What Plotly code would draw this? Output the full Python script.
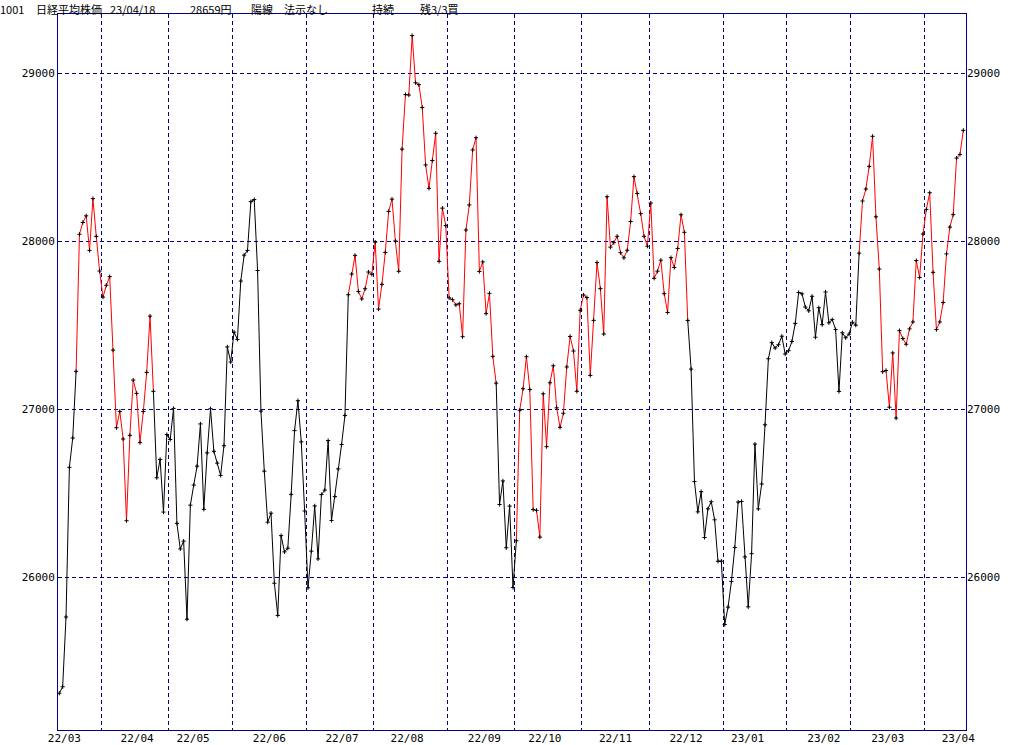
import numpy as np
import pandas as pd
import plotly.graph_objects as go

# ---- Nikkei 225 daily closes, grouped by month ----
mar22 = [25307.85, 25346.48, 25762.01, 26652.89, 26827.43, 27224.11, 28040.16, 28110.39, 28149.84,
         27943.89, 28252.42, 28027.25, 27821.43]
apr22 = [27665.98, 27736.47, 27787.98, 27350.30, 26888.57, 26985.80, 26821.52, 26334.98, 26843.49,
         27172.00, 27093.19, 26799.71, 26985.09, 27217.85, 27553.06, 27105.26, 26590.78, 26700.11,
         26386.63, 26847.90]
may22 = [26818.53, 27003.56, 26319.34, 26167.10, 26213.64, 25748.72, 26427.65, 26547.05, 26659.75,
         26911.20, 26402.84, 26739.03, 27001.52, 26748.14, 26677.80, 26604.84, 26781.68, 27369.43,
         27279.80]
jun22 = [27457.89, 27413.88, 27761.57, 27915.89, 27943.95, 28234.29, 28246.53, 27824.29, 26987.44,
         26629.86, 26326.16, 26380.00, 25963.00, 25771.22, 26246.31, 26149.55, 26171.25, 26491.97,
         26871.27, 27049.47, 26804.60, 26393.04]
jul22 = [25935.62, 26153.81, 26423.47, 26107.65, 26490.53, 26517.19, 26812.30, 26336.66, 26478.77,
         26643.39, 26788.47, 26961.68, 27680.26, 27803.00, 27914.66, 27699.25, 27655.21, 27715.75,
         27815.48, 27801.64]
aug22 = [27993.35, 27594.73, 27741.90, 27932.20, 28175.87, 28249.24, 27999.96, 27819.33, 28546.98,
         28871.78, 28868.91, 29222.77, 28942.14, 28930.33, 28794.50, 28452.75, 28313.47, 28479.01,
         28641.38, 27878.96, 28195.58, 28091.53]
sep22 = [27661.47, 27650.84, 27619.61, 27626.51, 27430.30, 28065.28, 28214.75, 28542.11, 28614.63,
         27818.62, 27875.91, 27567.65, 27688.42, 27313.13, 27153.83, 26431.55, 26571.87, 26173.98,
         26422.05, 25937.21]
oct22 = [26215.79, 26992.21, 27120.53, 27311.30, 27116.11, 26401.25, 26396.83, 26237.42, 27090.76,
         26775.79, 27156.14, 27257.38, 27006.96, 26890.58, 26974.90, 27250.28, 27431.84, 27345.24,
         27105.20, 27587.46]
nov22 = [27678.92, 27663.39, 27199.74, 27527.64, 27872.11, 27716.43, 27446.10, 28263.57, 27963.47,
         27990.17, 28028.30, 27930.57, 27899.77, 27944.79, 28115.74, 28383.09, 28283.03, 28162.83,
         28027.84, 27968.99]
dec22 = [28226.08, 27777.90, 27820.40, 27885.87, 27686.40, 27574.43, 27901.01, 27842.33, 27954.85,
         28156.21, 28051.70, 27527.12, 27237.64, 26568.03, 26387.72, 26507.87, 26235.25, 26405.87,
         26447.87, 26340.50, 26093.67, 26094.50]
jan23 = [25716.86, 25820.80, 25973.85, 26175.56, 26446.00, 26449.61, 26119.52, 25822.32, 26138.68,
         26791.12, 26405.23, 26553.53, 26906.04, 27299.19, 27395.01, 27362.75, 27382.56, 27433.40,
         27327.11]
feb23 = [27346.88, 27402.05, 27509.46, 27693.65, 27685.47, 27606.46, 27584.35, 27670.98, 27427.32,
         27602.77, 27501.86, 27696.44, 27513.13, 27531.94, 27473.10, 27104.32, 27453.48, 27423.96,
         27445.56]
mar23 = [27516.53, 27498.87, 27927.47, 28237.78, 28309.16, 28444.19, 28623.15, 28143.97, 27832.96,
         27222.04, 27229.48, 27010.61, 27333.79, 26945.67, 27466.61, 27419.61, 27385.25, 27476.87,
         27518.25, 27883.78, 27782.93, 28041.48]
apr23 = [28188.15, 28287.42, 27813.26, 27472.63, 27518.31, 27633.66, 27923.37, 28082.70, 28156.97,
         28493.47, 28514.78, 28658.83]

closes = (mar22 + apr22 + may22 + jun22 + jul22 + aug22 + sep22 + oct22 + nov22 + dec22
          + jan23 + feb23 + mar23 + apr23)

# Tokyo market holidays (weekdays) in the period
holidays = ["2022-03-21", "2022-04-29", "2022-05-03", "2022-05-04", "2022-05-05", "2022-07-18",
            "2022-08-11", "2022-09-19", "2022-09-23", "2022-10-10", "2022-11-03", "2022-11-23",
            "2023-01-02", "2023-01-03", "2023-01-09", "2023-02-23", "2023-03-21"]

# trend switches (buy = red line, sell = black line)
buy_dates = ["2022-03-22", "2022-07-20", "2022-10-03", "2023-03-03"]
sell_dates = ["2022-04-22", "2022-09-22", "2022-12-16"]

y_ticks = [26000, 27000, 28000, 29000]
title_parts = [("1001", -1), ("日経平均株価", 35), ("23/04/18", 109), ("28659円", 189),
               ("陽線", 250), ("法示なし", 283), ("持続", 371), ("残3/3買", 419)]

# ---------------------------------------------------------------
dates = pd.bdate_range("2022-03-14", "2023-04-18", freq="C", holidays=holidays)
n = min(len(dates), len(closes))
dates = dates[:n]
closes = closes[:n]
idx = list(range(n))

state = []
cur = "sell"
for d in dates:
    ds = d.strftime("%Y-%m-%d")
    if ds in buy_dates:
        cur = "buy"
    elif ds in sell_dates:
        cur = "sell"
    state.append(cur)

RED = "#ff0000"
BLACK = "#000000"
NAVY = "#000080"

fig = go.Figure()

runs = []
start = 0
for i in range(1, n - 1):
    if state[i] != state[start]:
        runs.append((start, i, state[start]))
        start = i
runs.append((start, n - 1, state[start]))

for c in ("sell", "buy"):
    xs, ys = [], []
    for a, b, s in runs:
        if s != c:
            continue
        xs += idx[a:b + 1] + [None]
        ys += closes[a:b + 1] + [None]
    fig.add_trace(go.Scatter(x=xs, y=ys, mode="lines",
                             line=dict(color=RED if c == "buy" else BLACK, width=1),
                             hoverinfo="skip", showlegend=False, connectgaps=False))

fig.add_trace(go.Scatter(x=idx, y=closes, mode="markers", xaxis="x2", yaxis="y2",
                         marker=dict(symbol="cross-thin", size=3,
                                     line=dict(color=BLACK, width=1), color=BLACK),
                         showlegend=False))

# month boundaries (between last and first trading day) and mid-month labels
day_num = np.array([d.value / 86400e9 for d in dates])
month_start = []
label_pos, label_txt = [], []
prev = None
for i, d in enumerate(dates):
    key = (d.year, d.month)
    if key != prev:
        if i > 0:
            month_start.append(i - 0.5)
        prev = key
        mid = pd.Timestamp(d.year, d.month, 15, 12).value / 86400e9
        label_pos.append(float(np.interp(mid, day_num, idx)))
        label_txt.append(d.strftime("%y/%m"))

x_range = [-0.387, n - 1 + 0.80]
y_range = [25089.3, 29351.2]
tick_font = dict(family="DejaVu Sans Mono", size=11, color="black")

fig.update_layout(
    width=1024, height=745,
    margin=dict(l=58, r=58, t=14, b=15, autoexpand=False),
    paper_bgcolor="white", plot_bgcolor="white",
    showlegend=False,
    xaxis=dict(range=x_range, tickvals=month_start, showticklabels=False,
               showgrid=True, gridcolor=NAVY, griddash="4px,3px", gridwidth=1,
               showline=True, linecolor=NAVY, linewidth=1, mirror=True,
               zeroline=False, ticks="", automargin=False),
    yaxis=dict(range=y_range, tickvals=y_ticks, ticktext=[str(v) for v in y_ticks],
               showgrid=True, gridcolor=NAVY, griddash="4px,3px", gridwidth=1,
               showline=True, linecolor=NAVY, linewidth=1, mirror=True,
               zeroline=False, ticks="", tickfont=tick_font, side="left",
               automargin=False, ticklabelstandoff=0),
    xaxis2=dict(range=x_range, overlaying="x", side="bottom", tickvals=label_pos,
                ticktext=label_txt, showgrid=False, showline=False, zeroline=False,
                ticks="", tickfont=tick_font, automargin=False),
    yaxis2=dict(range=y_range, overlaying="y", side="right", tickvals=y_ticks,
                ticktext=[str(v) for v in y_ticks], showgrid=False, showline=False,
                zeroline=False, ticks="", tickfont=tick_font, automargin=False,
                ticklabelstandoff=0),
)

for txt, px in title_parts:
    fig.add_annotation(text=txt, xref="paper", yref="paper",
                       x=(px - 58) / 908, y=1 + 14 / 716, xanchor="left", yanchor="top",
                       showarrow=False, borderpad=0,
                       font=dict(family="Noto Sans CJK JP", size=11, color="black"))

fig.write_html("out.html", config={"displayModeBar": False},
               post_script="document.body.style.margin='0';")
